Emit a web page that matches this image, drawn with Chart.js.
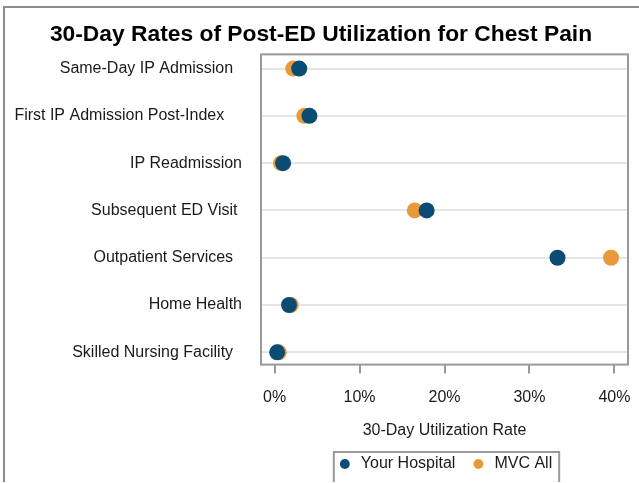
<!DOCTYPE html>
<html>
<head>
<meta charset="utf-8">
<script src="https://cdn.jsdelivr.net/npm/chart.js@4.4.0/dist/chart.umd.min.js"></script>
<style>
  html, body { margin: 0; padding: 0; overflow: hidden; background: #fff; }
  canvas { display: block; }
</style>
</head>
<body>
<canvas id="chart" width="639" height="482"></canvas>
<script>
// labels keep the trailing spaces of the source so they sit ragged like the original
const categories = [
    'Same-Day IP Admission  ',
    'First IP Admission Post-Index    ',
    'IP Readmission',
    'Subsequent ED Visit ',
    'Outpatient Services  ',
    'Home Health',
    'Skilled Nursing Facility  '
];
const yourHospital = [2.9, 4.1, 1.0, 17.9, 33.3, 1.7, 0.3];
const mvcAll = [2.2, 3.5, 0.75, 16.5, 39.6, 1.9, 0.5];
const xTickValues = [0, 10, 20, 30, 40];

const FONT = '"Liberation Sans", Arial, sans-serif';
const BLUE = '#0b4c74';
const ORANGE = '#e8993a';
const FRAME = '#999999';

const toPoints = (vals) => vals.map((v, i) => ({ x: v, y: i }));

// outer panel frame, plot frame and the box round the legend
const framePlugin = {
    id: 'frames',
    beforeDraw(chart) {
        const ctx = chart.ctx;
        ctx.save();
        ctx.strokeStyle = '#8c8c8c';
        ctx.lineWidth = 2;
        ctx.beginPath();
        ctx.moveTo(4, chart.height + 5);
        ctx.lineTo(4, 7);
        ctx.lineTo(chart.width + 5, 7);
        ctx.stroke();
        ctx.restore();
    },
    beforeDatasetsDraw(chart) {
        const { ctx, chartArea: a } = chart;
        ctx.save();
        ctx.strokeStyle = FRAME;
        ctx.lineWidth = 2;
        ctx.strokeRect(a.left, a.top, a.right - a.left, a.bottom - a.top);
        ctx.restore();
    },
    afterDraw(chart) {
        const lg = chart.legend;
        if (!lg || !lg.legendHitBoxes || !lg.legendHitBoxes.length) return;
        const hb = lg.legendHitBoxes;
        const last = hb[hb.length - 1];
        const x0 = hb[0].left - 3;
        const x1 = last.left + last.width + 7;
        const y0 = hb[0].top - 4;
        const ctx = chart.ctx;
        ctx.save();
        ctx.strokeStyle = FRAME;
        ctx.lineWidth = 2;
        ctx.strokeRect(x0, y0, x1 - x0, chart.height + 20 - y0);
        ctx.restore();
    }
};

new Chart(document.getElementById('chart'), {
    type: 'scatter',
    data: {
        datasets: [
            { label: 'Your Hospital', data: toPoints(yourHospital), backgroundColor: BLUE, borderWidth: 0 },
            { label: 'MVC All', data: toPoints(mvcAll), backgroundColor: ORANGE, borderWidth: 0 }
        ]
    },
    options: {
        responsive: false,
        animation: false,
        layout: { autoPadding: false, padding: { top: 13, right: 11, left: 14, bottom: 0 } },
        elements: { point: { radius: 8, hoverRadius: 8, pointStyle: 'circle' } },
        scales: {
            x: {
                type: 'linear', position: 'bottom',
                min: -1.6, max: 41.6,
                afterBuildTicks: (s) => { s.ticks = xTickValues.map(v => ({ value: v })); },
                // stop the end labels from pulling the plot edge in
                afterFit: (s) => { s.paddingLeft = 0; s.paddingRight = 0; },
                ticks: {
                    callback: (v) => v + '%',
                    font: { family: FONT, size: 16 },
                    color: '#1a1a1a',
                    padding: 14,
                    maxRotation: 0
                },
                grid: { drawOnChartArea: false, drawTicks: true, tickLength: 9, color: FRAME, lineWidth: 2 },
                border: { display: false },
                title: {
                    display: true, text: '30-Day Utilization Rate',
                    font: { family: FONT, size: 16 }, color: '#1a1a1a',
                    padding: { top: 0, bottom: 1 }
                }
            },
            y: {
                type: 'linear', reverse: true,
                min: -0.3, max: 6.26,
                afterBuildTicks: (s) => { s.ticks = categories.map((c, i) => ({ value: i })); },
                afterFit: (s) => { s.width = 247; },
                ticks: {
                    callback: (v) => categories[v],
                    font: { family: FONT, size: 16 },
                    color: '#1a1a1a',
                    padding: 19
                },
                grid: { color: '#e6e6e6', lineWidth: 2, drawTicks: false },
                border: { display: false }
            }
        },
        plugins: {
            title: {
                display: true,
                text: '30-Day Rates of Post-ED Utilization for Chest Pain',
                font: { family: FONT, size: 22.8, weight: 'bold' },
                color: '#000',
                padding: { top: 8, bottom: 6 }
            },
            legend: {
                position: 'bottom',
                fullSize: false,
                labels: {
                    usePointStyle: true, pointStyle: 'circle',
                    boxWidth: 16, boxHeight: 7,
                    font: { family: FONT, size: 16 },
                    color: '#1a1a1a',
                    padding: 15
                }
            },
            tooltip: { enabled: false }
        }
    },
    plugins: [framePlugin]
});
</script>
</body>
</html>
